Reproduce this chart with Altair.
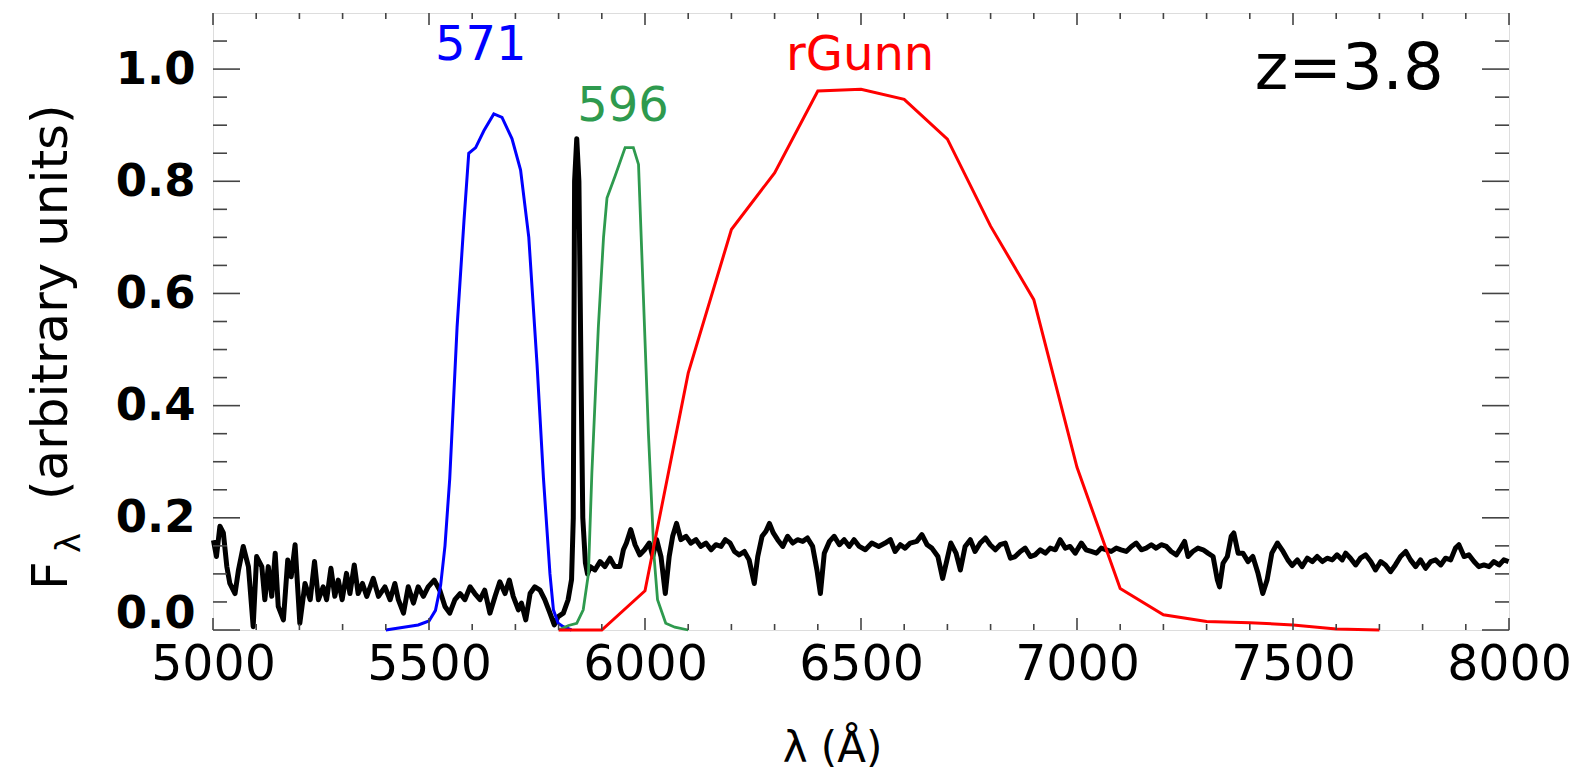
import altair as alt
import pandas as pd

# ---------------- data ----------------
spec_wl = [5001, 5008, 5016, 5024, 5032, 5039, 5051, 5059, 5070, 5082, 5093, 5101, 5113, 5120,
           5128, 5136, 5144, 5151, 5163, 5173, 5181, 5190, 5201, 5213, 5225, 5235, 5244, 5255,
           5263, 5273, 5282, 5290, 5299, 5309, 5317, 5327, 5336, 5346, 5356, 5371, 5383, 5398,
           5410, 5421, 5429, 5441, 5452, 5464, 5475, 5487, 5498, 5512, 5525, 5537, 5548, 5560,
           5572, 5583, 5595, 5606, 5618, 5629, 5641, 5653, 5664, 5676, 5686, 5695, 5707, 5714,
           5724, 5734, 5745, 5757, 5768, 5780, 5790, 5799, 5811, 5822, 5830, 5834, 5837, 5842,
           5847, 5852, 5856, 5862, 5867, 5873, 5884, 5896, 5907, 5919, 5930, 5942, 5950, 5957,
           5967, 5977, 5988, 5999, 6010, 6018, 6027, 6037, 6047, 6056, 6064, 6073, 6083, 6095,
           6106, 6118, 6129, 6141, 6153, 6164, 6176, 6186, 6197, 6207, 6218, 6230, 6241, 6253,
           6261, 6271, 6280, 6288, 6297, 6307, 6319, 6330, 6342, 6353, 6365, 6376, 6388, 6398,
           6406, 6415, 6427, 6438, 6450, 6461, 6473, 6484, 6496, 6510, 6525, 6541, 6556, 6568,
           6579, 6591, 6602, 6614, 6629, 6641, 6653, 6664, 6678, 6689, 6699, 6708, 6720, 6730,
           6741, 6753, 6764, 6776, 6788, 6799, 6811, 6822, 6834, 6846, 6857, 6869, 6880, 6892,
           6903, 6915, 6927, 6938, 6950, 6961, 6973, 6984, 6996, 7010, 7021, 7033, 7045, 7056,
           7068, 7079, 7091, 7102, 7114, 7126, 7137, 7149, 7160, 7172, 7183, 7195, 7207, 7218,
           7230, 7240, 7249, 7257, 7268, 7280, 7292, 7303, 7315, 7325, 7330, 7338, 7348, 7357,
           7363, 7373, 7384, 7396, 7407, 7419, 7430, 7440, 7451, 7464, 7477, 7488, 7498, 7510,
           7521, 7533, 7545, 7556, 7568, 7579, 7591, 7602, 7614, 7622, 7633, 7645, 7656, 7668,
           7680, 7691, 7703, 7714, 7726, 7737, 7749, 7761, 7772, 7784, 7795, 7807, 7819, 7830,
           7842, 7853, 7865, 7876, 7884, 7896, 7907, 7919, 7930, 7942, 7954, 7965, 7977, 7988,
           7999]
spec_flux = [0.160, 0.131, 0.185, 0.173, 0.113, 0.083, 0.065, 0.107, 0.149, 0.113, 0.006, 0.131,
             0.113, 0.054, 0.113, 0.060, 0.137, 0.042, 0.018, 0.125, 0.095, 0.152, 0.012, 0.083,
             0.054, 0.122, 0.054, 0.077, 0.054, 0.110, 0.060, 0.089, 0.054, 0.101, 0.065, 0.116,
             0.065, 0.083, 0.060, 0.092, 0.060, 0.077, 0.054, 0.083, 0.054, 0.030, 0.077, 0.048,
             0.077, 0.060, 0.077, 0.089, 0.071, 0.042, 0.030, 0.054, 0.065, 0.054, 0.077, 0.065,
             0.054, 0.071, 0.030, 0.060, 0.086, 0.065, 0.089, 0.060, 0.036, 0.048, 0.018, 0.065,
             0.077, 0.071, 0.054, 0.030, 0.009, 0.024, 0.030, 0.054, 0.090, 0.200, 0.800, 0.876,
             0.800, 0.450, 0.200, 0.120, 0.100, 0.113, 0.107, 0.122, 0.113, 0.128, 0.113, 0.113,
             0.143, 0.155, 0.179, 0.152, 0.134, 0.143, 0.155, 0.131, 0.161, 0.131, 0.065, 0.131,
             0.167, 0.190, 0.161, 0.167, 0.155, 0.161, 0.149, 0.155, 0.143, 0.152, 0.149, 0.161,
             0.155, 0.140, 0.134, 0.140, 0.125, 0.083, 0.131, 0.167, 0.176, 0.190, 0.173, 0.161,
             0.149, 0.167, 0.155, 0.161, 0.158, 0.164, 0.149, 0.107, 0.065, 0.137, 0.158, 0.167,
             0.152, 0.161, 0.149, 0.161, 0.149, 0.143, 0.155, 0.149, 0.155, 0.161, 0.140, 0.152,
             0.146, 0.155, 0.158, 0.170, 0.152, 0.146, 0.131, 0.092, 0.125, 0.155, 0.137, 0.107,
             0.149, 0.161, 0.140, 0.155, 0.164, 0.152, 0.143, 0.152, 0.155, 0.128, 0.131, 0.140,
             0.146, 0.131, 0.134, 0.143, 0.137, 0.146, 0.143, 0.161, 0.146, 0.149, 0.137, 0.155,
             0.143, 0.140, 0.137, 0.146, 0.143, 0.140, 0.146, 0.143, 0.140, 0.149, 0.155, 0.143,
             0.146, 0.152, 0.146, 0.152, 0.149, 0.140, 0.134, 0.146, 0.158, 0.131, 0.140, 0.146,
             0.143, 0.137, 0.131, 0.089, 0.077, 0.119, 0.131, 0.167, 0.173, 0.137, 0.137, 0.122,
             0.131, 0.101, 0.065, 0.089, 0.137, 0.155, 0.140, 0.125, 0.115, 0.125, 0.113, 0.128,
             0.122, 0.131, 0.122, 0.128, 0.125, 0.134, 0.125, 0.137, 0.128, 0.116, 0.128, 0.134,
             0.122, 0.107, 0.122, 0.116, 0.104, 0.116, 0.131, 0.140, 0.125, 0.113, 0.125, 0.110,
             0.122, 0.125, 0.116, 0.128, 0.125, 0.146, 0.152, 0.131, 0.134, 0.122, 0.113, 0.116,
             0.113, 0.122, 0.116, 0.125, 0.122]

f571_wl = [5400, 5475, 5500, 5515, 5527, 5537, 5548, 5565, 5581, 5592, 5608, 5627, 5650,
           5669, 5692, 5712, 5731, 5750, 5765, 5780, 5788, 5799, 5811, 5830]
f571_tr = [0.0, 0.009, 0.016, 0.035, 0.080, 0.15, 0.27, 0.54, 0.73, 0.85, 0.86, 0.89, 0.92,
           0.914, 0.876, 0.82, 0.70, 0.475, 0.27, 0.10, 0.036, 0.012, 0.006, 0.0]

f596_wl = [5800, 5823, 5842, 5857, 5869, 5877, 5892, 5904, 5912, 5931, 5954, 5973, 5985,
           5996, 6008, 6021, 6029, 6048, 6069, 6100]
f596_tr = [0.0, 0.008, 0.012, 0.036, 0.10, 0.28, 0.54, 0.70, 0.77, 0.81, 0.86, 0.86, 0.83,
           0.60, 0.35, 0.131, 0.054, 0.012, 0.005, 0.0]

rgunn_wl = [5800, 5900, 6000, 6100, 6200, 6300, 6400, 6500, 6600, 6700, 6800, 6900, 7000,
            7100, 7200, 7300, 7400, 7500, 7600, 7700]
rgunn_tr = [0.0, 0.0, 0.07, 0.458, 0.714, 0.815, 0.961, 0.964, 0.946, 0.875, 0.72, 0.589,
            0.29, 0.074, 0.027, 0.015, 0.013, 0.009, 0.002, 0.0]

label_text = ["571", "596", "rGunn"]
label_wl = [5620, 5949, 6498]
label_val = [1.041, 0.932, 1.023]
label_color = ["#0000ff", "#2e9a4e", "#ff0000"]

z_text = ["z=3.8"]
z_wl = [7630]
z_val = [0.998]

x_major = [5000, 5500, 6000, 6500, 7000, 7500, 8000]
x_minor = [w for w in range(5100, 8000, 100) if w % 500 != 0]
y_major = [0.0, 0.2, 0.4, 0.6, 0.8, 1.0]
y_minor = [0.05, 0.1, 0.15, 0.25, 0.3, 0.35, 0.45, 0.5, 0.55, 0.65, 0.7, 0.75, 0.85, 0.9, 0.95, 1.05]

# ---------------- chart ----------------
W, H = 1296, 617
FONT = "DejaVu Sans"
AXC = "#444444"

xs = alt.Scale(domain=[5000, 8000], nice=False, zero=False)
ys = alt.Scale(domain=[0, 1.1], nice=False, zero=False)

xaxis = alt.Axis(values=x_major, format="d", grid=False, ticks=False, domain=False,
                 labelFont=FONT, labelFontSize=49, labelColor="black", labelPadding=10,
                 labelFlush=False, labelOverlap=False,
                 title="λ (Å)", titleFont=FONT, titleFontSize=42, titleFontWeight="normal",
                 titleColor="black", titleX=619, titleY=131, titleAlign="center",
                 titleBaseline="alphabetic")
yaxis = alt.Axis(values=y_major, format=".1f", grid=False, ticks=False, domain=False,
                 labelFont=FONT, labelFontSize=45, labelFontWeight="bold", labelColor="black",
                 labelPadding=18, labelFlush=False, labelOverlap=False, title=None,
                 labelOffset={"condition": {"test": "datum.value == 0", "value": -17}, "value": 0})

spec_df = pd.DataFrame({"wl": spec_wl, "f": spec_flux})
blue_df = pd.DataFrame({"wl": f571_wl, "f": f571_tr})
green_df = pd.DataFrame({"wl": f596_wl, "f": f596_tr})
red_df = pd.DataFrame({"wl": rgunn_wl, "f": rgunn_tr})

spec = alt.Chart(spec_df).mark_line(color="black", strokeWidth=5, strokeJoin="round").encode(
    x=alt.X("wl:Q", scale=xs, axis=xaxis), y=alt.Y("f:Q", scale=ys, axis=yaxis))
blue = alt.Chart(blue_df).mark_line(color="#0000ff", strokeWidth=3).encode(
    x=alt.X("wl:Q", scale=xs), y=alt.Y("f:Q", scale=ys))
green = alt.Chart(green_df).mark_line(color="#2e9a4e", strokeWidth=2.8).encode(
    x=alt.X("wl:Q", scale=xs), y=alt.Y("f:Q", scale=ys))
red = alt.Chart(red_df).mark_line(color="#ff0000", strokeWidth=3).encode(
    x=alt.X("wl:Q", scale=xs), y=alt.Y("f:Q", scale=ys))

lab_df = pd.DataFrame({"t": label_text, "wl": label_wl, "v": label_val, "c": label_color})
labels = alt.Chart(lab_df).mark_text(font=FONT, fontSize=48, baseline="middle", align="center").encode(
    x=alt.X("wl:Q", scale=xs), y=alt.Y("v:Q", scale=ys), text="t:N",
    color=alt.Color("c:N", scale=None))
zdf = pd.DataFrame({"t": z_text, "wl": z_wl, "v": z_val})
zlab = alt.Chart(zdf).mark_text(font=FONT, fontSize=64, baseline="middle", align="center",
                                color="black").encode(
    x=alt.X("wl:Q", scale=xs), y=alt.Y("v:Q", scale=ys), text="t:N")

# inward ticks on all four sides
xmaj_df = pd.DataFrame({"v": x_major})
xmin_df = pd.DataFrame({"v": x_minor})
ymaj_df = pd.DataFrame({"v": y_major})
ymin_df = pd.DataFrame({"v": y_minor})


def xticks(df, length):
    b = alt.Chart(df).mark_rule(color=AXC, strokeWidth=1.6).encode(
        x=alt.X("v:Q", scale=xs), y=alt.value(H), y2=alt.value(H - length))
    t = alt.Chart(df).mark_rule(color=AXC, strokeWidth=1.6).encode(
        x=alt.X("v:Q", scale=xs), y=alt.value(0), y2=alt.value(length))
    return [b, t]


def yticks(df, length):
    l = alt.Chart(df).mark_rule(color=AXC, strokeWidth=1.6).encode(
        y=alt.Y("v:Q", scale=ys), x=alt.value(0), x2=alt.value(length))
    r = alt.Chart(df).mark_rule(color=AXC, strokeWidth=1.6).encode(
        y=alt.Y("v:Q", scale=ys), x=alt.value(W), x2=alt.value(W - length))
    return [l, r]


tick_layers = xticks(xmaj_df, 12) + xticks(xmin_df, 6) + yticks(ymaj_df, 27) + yticks(ymin_df, 14)

# y-axis title pieces (F, subscript lambda, "(arbitrary units)")
ttl_df = pd.DataFrame({"t": ["F", "(arbitrary units)"], "yy": [577, 487]})
ytitle = alt.Chart(ttl_df).mark_text(font=FONT, fontSize=50, angle=270, align="left",
                                     baseline="alphabetic", color="black").encode(
    x=alt.value(-146), y=alt.Y("yy:Q", scale=None), text="t:N")
sub_df = pd.DataFrame({"t": ["λ"]})
ysub = alt.Chart(sub_df).mark_text(font=FONT, fontSize=34, angle=270, align="left",
                                   baseline="alphabetic", color="black").encode(
    x=alt.value(-133), y=alt.value(540), text="t:N")

chart = alt.layer(spec, blue, green, red, labels, zlab, *tick_layers, ytitle, ysub).properties(
    width=W, height=H,
    autosize=alt.AutoSizeParams(type="none"),
    padding={"left": 205, "top": 5, "right": 65, "bottom": 143},
).configure_view(stroke=AXC, strokeWidth=2).configure(background="white")

chart.save("out.html", embed_options={"renderer": "svg", "actions": False})
